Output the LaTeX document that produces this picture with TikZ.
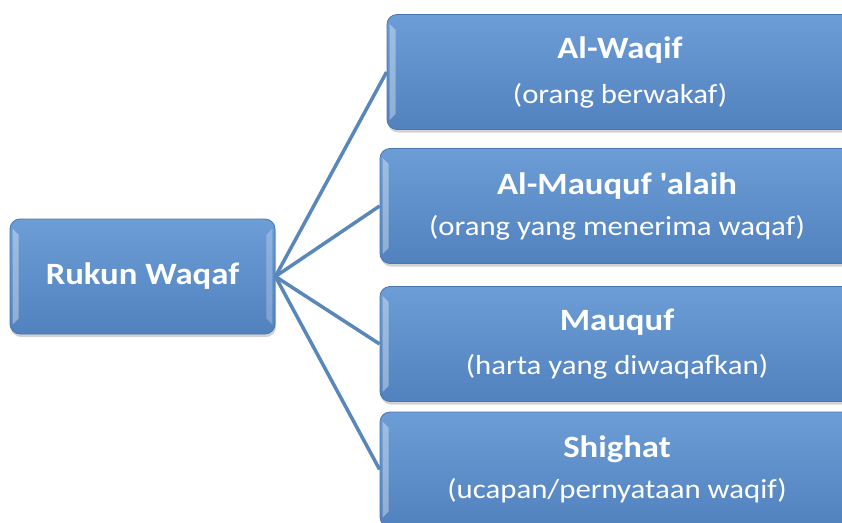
\documentclass[tikz,border=0pt]{standalone}
\usepackage{fontspec}
\setmainfont{Carlito}[FakeStretch=1.12]
\usetikzlibrary{shadows}
\definecolor{boxtop}{HTML}{6C9DD6}
\definecolor{boxbot}{HTML}{5282BE}
\definecolor{boxline}{HTML}{4A77AE}
\definecolor{link}{HTML}{5A87BA}
\newcommand{\judul}[1]{{\bfseries\fontsize{31}{36}\selectfont #1}}
\newcommand{\ket}[1]{{\fontsize{27.5}{32}\selectfont #1}}
\begin{document}
\begin{tikzpicture}[x=1pt, y=-1pt,
	kotak/.style={rectangle, rounded corners=10pt, draw=boxline, line width=.8pt,
		top color=boxtop, bottom color=boxbot, text=white, align=center,
		inner sep=0pt, minimum height=115pt,
		drop shadow={shadow xshift=1pt, shadow yshift=-3pt, opacity=.35}}]
\useasboundingbox (0,0) rectangle (842,522);
\clip (0,0) rectangle (842,522);
\fill [white] (0,0) rectangle (842,522);
% kotak kiri
\node [kotak, minimum width=265pt] (rukun) at (142.5,276.5) {\judul{Rukun Waqaf}};
% kotak kanan
\node [kotak, minimum width=466pt] (waqif) at (620,72)
	{\judul{Al-Waqif}\\[19pt] \ket{(orang berwakaf)}};
\node [kotak, minimum width=474pt] (alaih) at (617,206)
	{\judul{Al-Mauquf \textquotesingle alaih}\\[15pt] \ket{(orang yang menerima waqaf)}};
\node [kotak, minimum width=474pt] (mauquf) at (617,344)
	{\judul{Mauquf}\\[18pt] \ket{(harta yang diwaqafkan)}};
\node [kotak, minimum width=474pt] (shighat) at (617,469.5)
	{\judul{Shighat}\\[15pt] \ket{(ucapan/pernyataan waqif)}};
% garis
\foreach \n in {waqif,alaih,mauquf,shighat}{
	\draw [link, line width=3.5pt] (rukun.east) -- (\n.west);
}
% kilap tepi
\foreach \n in {rukun,waqif,alaih,mauquf,shighat}{
	\fill [white, opacity=.35] ([xshift=3pt,yshift=-10pt]\n.north west) -- ([xshift=9pt,yshift=-16pt]\n.north west)
		-- ([xshift=9pt,yshift=16pt]\n.south west) -- ([xshift=3pt,yshift=10pt]\n.south west) -- cycle;
	\fill [white, opacity=.25] ([xshift=-3pt,yshift=-10pt]\n.north east) -- ([xshift=-9pt,yshift=-16pt]\n.north east)
		-- ([xshift=-9pt,yshift=16pt]\n.south east) -- ([xshift=-3pt,yshift=10pt]\n.south east) -- cycle;
}
\end{tikzpicture}
\end{document}
